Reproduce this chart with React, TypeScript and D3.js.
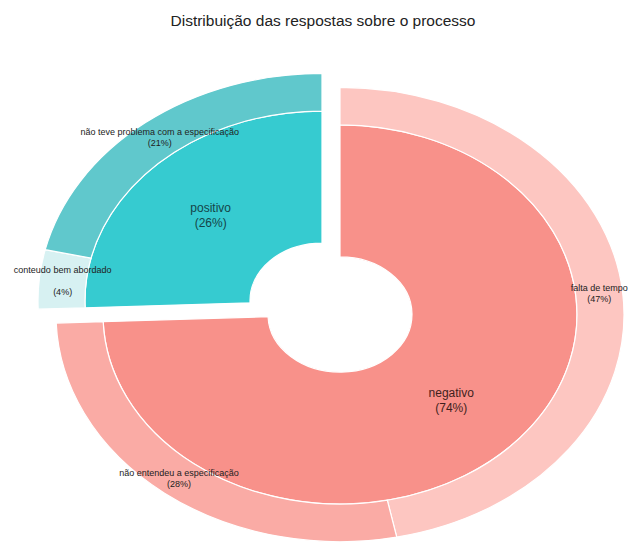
import * as d3 from "d3";
import React from "react";

// inner ring: the two groups, outer ring: the answers inside each group
const groups = ["negativo", "positivo"];
const answers = [
  "falta de tempo",
  "não entendeu a especificação",
  "conteudo bem abordado",
  "não teve problema com a especificação",
];
const answerGroup = ["negativo", "negativo", "positivo", "positivo"];
const answerShare = [46.8, 27.6, 4.2, 21.4];

const groupColor: Record<string, string> = {
  negativo: "#f8918a",
  positivo: "#36cbd0",
};
const groupText: Record<string, string> = {
  negativo: "#3f1f1d",
  positivo: "#154548",
};
const answerColor: Record<string, string> = {
  "falta de tempo": "#fdc6c1",
  "não entendeu a especificação": "#faaba5",
  "conteudo bem abordado": "#d7f1f2",
  "não teve problema com a especificação": "#60c8cc",
};
const labelGap: Record<string, number> = { "conteudo bem abordado": 22 };

const W = 631;
const H = 544;

export default function App() {
  const ref = React.useRef<SVGSVGElement | null>(null);

  React.useEffect(() => {
    const svg = d3.select(ref.current);
    svg.selectAll("*").remove();

    const cx = 340, cy = 314.5, squash = 0.8;
    const r0 = 72, r1 = 237, r2 = 284, explode = 25;

    const groupValues = groups.map((g) =>
      d3.sum(answerShare.filter((_, i) => answerGroup[i] === g))
    );
    const pie = d3.pie<number>().sort(null).value((d) => d);
    const groupArcs = pie(groupValues);

    // outer slices follow the same order, so the cumulative angles line up
    const total = d3.sum(answerShare);
    const angle = d3.scaleLinear().domain([0, total]).range([0, 2 * Math.PI]);
    let acc = 0;
    const answerArcs = answers.map((a, i) => {
      const s = acc;
      acc += answerShare[i];
      return { name: a, group: answerGroup[i], value: answerShare[i], startAngle: angle(s), endAngle: angle(acc) };
    });

    const innerArc = d3.arc<any>().innerRadius(r0).outerRadius(r1);
    const outerArc = d3.arc<any>().innerRadius(r1).outerRadius(r2);

    const shift = (g: string) => {
      if (g !== "positivo") return [0, 0];
      const a = groupArcs[groups.indexOf(g)];
      const m = (a.startAngle + a.endAngle) / 2;
      return [Math.sin(m) * explode, -Math.cos(m) * explode];
    };

    svg.append("text")
      .attr("x", 323)
      .attr("y", 26)
      .attr("text-anchor", "middle")
      .attr("font-family", "Liberation Sans, Arial, sans-serif")
      .attr("font-size", 15.5)
      .attr("fill", "#222")
      .text("Distribuição das respostas sobre o processo");

    const chart = svg.append("g")
      .attr("transform", `translate(${cx},${cy}) scale(1,${squash})`);

    groups.forEach((g, gi) => {
      const [dx, dy] = shift(g);
      const layer = chart.append("g").attr("transform", `translate(${dx},${dy})`);
      layer.append("path")
        .attr("d", innerArc(groupArcs[gi]))
        .attr("fill", groupColor[g])
        .attr("stroke", "#fff")
        .attr("stroke-width", 1.2)
        .attr("vector-effect", "non-scaling-stroke");
      answerArcs.filter((a) => a.group === g).forEach((a) => {
        layer.append("path")
          .attr("d", outerArc(a))
          .attr("fill", answerColor[a.name])
          .attr("stroke", "#fff")
          .attr("stroke-width", 1.2)
          .attr("vector-effect", "non-scaling-stroke");
      });
    });

    const pct = (v: number) => `(${Math.round((v / total) * 100)}%)`;

    // labels sit outside the squashed group so the text keeps its shape
    groupArcs.forEach((a, gi) => {
      const g = groups[gi];
      const [dx, dy] = shift(g);
      const [x, y] = innerArc.centroid(a);
      const t = svg.append("text")
        .attr("text-anchor", "middle")
        .attr("font-family", "Liberation Sans, Arial, sans-serif")
        .attr("font-size", 12)
        .attr("fill", groupText[g]);
      t.append("tspan").attr("x", cx + x + dx).attr("y", cy + (y + dy) * squash - 3).text(g);
      t.append("tspan").attr("x", cx + x + dx).attr("y", cy + (y + dy) * squash + 12).text(pct(groupValues[gi]));
    });

    answerArcs.forEach((a) => {
      const [dx, dy] = shift(a.group);
      const [x, y] = outerArc.centroid(a);
      const gap = labelGap[a.name] ?? 11;
      const px = cx + x + dx;
      const py = cy + (y + dy) * squash;
      const t = svg.append("text")
        .attr("text-anchor", "middle")
        .attr("font-family", "Liberation Sans, Arial, sans-serif")
        .attr("font-size", 9)
        .attr("fill", "#222");
      t.append("tspan").attr("x", px).attr("y", py - gap / 2 + 3).text(a.name);
      t.append("tspan").attr("x", px).attr("y", py + gap / 2 + 3).text(pct(a.value));
    });
  }, []);

  return (
    <div style={{ position: "absolute", left: 0, top: 0 }}>
      <svg ref={ref} width={W} height={H} style={{ display: "block", background: "#fff" }} />
    </div>
  );
}
